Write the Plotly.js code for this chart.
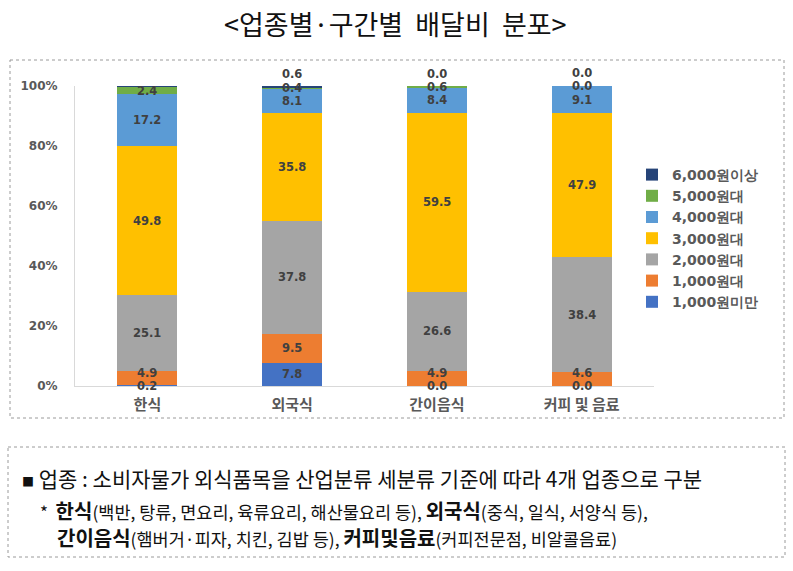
<!DOCTYPE html>
<html>
<head>
<meta charset="utf-8">
<script src="https://cdn.plot.ly/plotly-3.0.1.min.js"></script>
<style>html,body{margin:0;padding:0;background:#fff;}#chart{width:793px;height:571px;}</style>
</head>
<body>
<div id="chart"></div>
<script>
// ---- data ----
var categories = ['한식', '외국식', '간이음식', '커피 및 음료'];
var seriesNames = ['1,000원미만', '1,000원대', '2,000원대', '3,000원대', '4,000원대', '5,000원대', '6,000원이상'];
var under1000 = [0.2, 7.8, 0.0, 0.0];
var w1000 = [4.9, 9.5, 4.9, 4.6];
var w2000 = [25.1, 37.8, 26.6, 38.4];
var w3000 = [49.8, 35.8, 59.5, 47.9];
var w4000 = [17.2, 8.1, 8.4, 9.1];
var w5000 = [2.4, 0.4, 0.6, 0.0];
var over6000 = [0.4, 0.6, 0.0, 0.0];
var yTickVals = [0, 20, 40, 60, 80, 100];
var yTickText = ['0%', '20%', '40%', '60%', '80%', '100%'];

var seriesValues = [under1000, w1000, w2000, w3000, w4000, w5000, over6000];
var colors = ['#4472C4', '#ED7D31', '#A5A5A5', '#FFC000', '#5B9BD5', '#70AD47', '#264478'];

// plot area in pixels
var L = 75, R = 654, T = 86, B = 386;
function px(x) { return (x - L) / (R - L); }
function py(y) { return (B - y) / (B - T); }
var pxPerUnit = (B - T) / 100;

var traces = seriesNames.map(function (n, i) {
  return {
    type: 'bar', name: n, x: categories, y: seriesValues[i],
    marker: { color: colors[i] }, width: 0.415, hoverinfo: 'skip'
  };
});

var labelFont = { family: 'DejaVu Sans', size: 11.5, color: '#404040', weight: 'bold' };
var annotations = [];
var minGap = 13;
categories.forEach(function (c, ci) {
  var cum = 0;
  var lastPos = null; // label position in px above the baseline
  seriesValues.forEach(function (vals, si) {
    var v = vals[ci];
    var isTop = si === seriesValues.length - 1;
    var yv = isTop ? cum + v : cum + v / 2;
    var base = yv * pxPerUnit + (isTop ? 12 : 0);
    var pos = base;
    if (lastPos !== null && pos < lastPos + minGap) pos = lastPos + minGap;
    annotations.push({
      x: c, y: yv, xref: 'x', yref: 'y',
      text: v.toFixed(1), showarrow: false, font: labelFont, borderpad: 0,
      yshift: pos - yv * pxPerUnit
    });
    lastPos = pos;
    cum += v;
  });
});

// Title
annotations.push({
  xref: 'paper', yref: 'paper', x: px(395), y: py(24), xanchor: 'center', yanchor: 'middle',
  text: '&lt;업종별·구간별  배달비  분포&gt;', showarrow: false,
  font: { family: 'Noto Sans CJK KR', size: 27, color: '#111' }
});

// Notes
var bigS = 'font-size:20px;font-weight:bold';
var smallS = 'font-size:17.5px';
annotations.push({
  xref: 'paper', yref: 'paper', x: px(20), y: py(478), xanchor: 'left', yanchor: 'middle',
  text: '<span style="font-size:12px">■</span> 업종 : 소비자물가 외식품목을 산업분류 세분류 기준에 따라 4개 업종으로 구분',
  showarrow: false, font: { family: 'Noto Sans CJK KR', size: 21, color: '#111' }
});
annotations.push({
  xref: 'paper', yref: 'paper', x: px(38), y: py(510), xanchor: 'left', yanchor: 'middle',
  text: '*  <span style="' + bigS + '">한식</span><span style="' + smallS + '">(백반, 탕류, 면요리, 육류요리, 해산물요리 등),</span> <span style="' + bigS + '">외국식</span><span style="' + smallS + '">(중식, 일식, 서양식 등),</span>',
  showarrow: false, font: { family: 'Noto Sans CJK KR', size: 17, color: '#111' }
});
annotations.push({
  xref: 'paper', yref: 'paper', x: px(55), y: py(537), xanchor: 'left', yanchor: 'middle',
  text: '<span style="' + bigS + '">간이음식</span><span style="' + smallS + '">(햄버거·피자, 치킨, 김밥 등),</span> <span style="' + bigS + '">커피및음료</span><span style="' + smallS + '">(커피전문점, 비알콜음료)</span>',
  showarrow: false, font: { family: 'Noto Sans CJK KR', size: 17, color: '#111' }
});

var shapes = [
  { type: 'rect', xref: 'paper', yref: 'paper', x0: px(10), x1: px(784), y0: py(60), y1: py(418),
    line: { color: '#9a9a9a', width: 1, dash: 'dot' } },
  { type: 'rect', xref: 'paper', yref: 'paper', x0: px(8), x1: px(785), y0: py(447), y1: py(557),
    line: { color: '#9a9a9a', width: 1, dash: 'dot' } }
];

var layout = {
  width: 793, height: 571,
  margin: { l: L, r: 793 - R, t: T, b: 571 - B, pad: 0 },
  paper_bgcolor: '#fff', plot_bgcolor: '#fff',
  barmode: 'stack', bargap: 0.585,
  showlegend: true,
  legend: {
    x: px(632), y: py(159), xanchor: 'left', yanchor: 'top',
    traceorder: 'reversed', bgcolor: 'rgba(0,0,0,0)',
    font: { family: 'DejaVu Sans', size: 14, color: '#595959', weight: 'bold' },
    itemwidth: 30, tracegroupgap: 0
  },
  xaxis: {
    type: 'category', showline: true, linecolor: '#D9D9D9', linewidth: 1,
    ticks: '', showgrid: false, zeroline: false, ticklabelstandoff: 5,
    tickfont: { family: 'Noto Sans CJK KR', size: 15, color: '#595959', weight: 'bold' }
  },
  yaxis: {
    range: [0, 100], tickvals: yTickVals, ticktext: yTickText,
    showline: true, linecolor: '#D9D9D9', linewidth: 1,
    showgrid: false, zeroline: false, ticks: '', ticklabelstandoff: 14,
    tickfont: { family: 'DejaVu Sans', size: 12, color: '#595959', weight: 'bold' }
  },
  annotations: annotations,
  shapes: shapes
};

Plotly.newPlot('chart', traces, layout, { displayModeBar: false, staticPlot: true });
</script>
</body>
</html>
